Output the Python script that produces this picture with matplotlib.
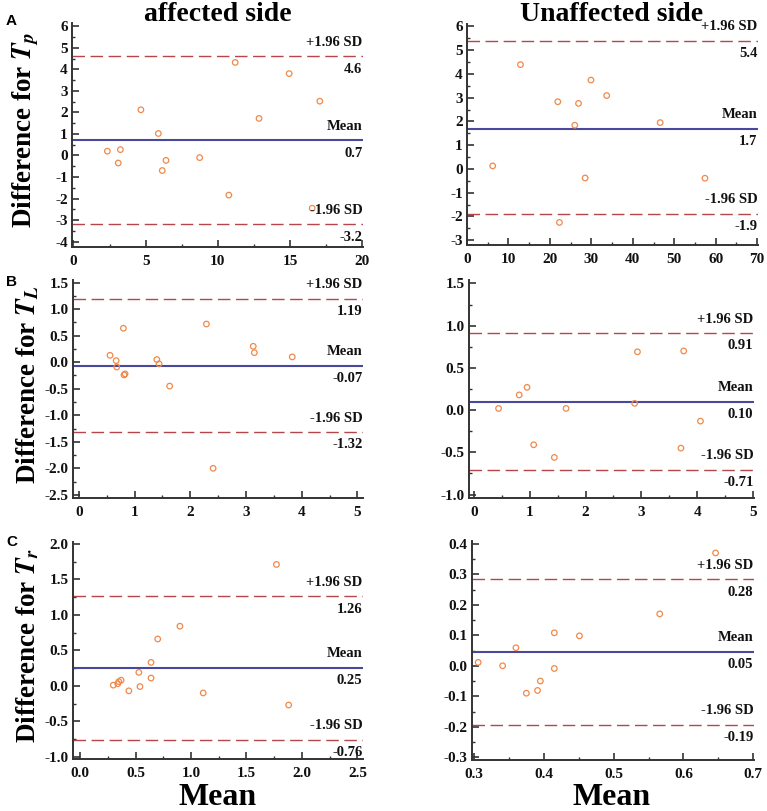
import matplotlib
matplotlib.use("Agg")
import matplotlib.pyplot as plt
from matplotlib.ticker import AutoMinorLocator, MultipleLocator
from matplotlib import transforms

plt.rcParams['font.family'] = ['Liberation Serif', 'DejaVu Serif']
plt.rcParams['font.weight'] = 'bold'
plt.rcParams['mathtext.fontset'] = 'stix'

# ---- data ----
tp_aff_x = [2.35, 3.1, 3.25, 4.67, 5.88, 6.15, 6.41, 8.74, 10.76, 11.2, 12.85, 14.94, 17.06, 16.53]
tp_aff_y = [0.2, -0.35, 0.27, 2.12, 1.02, -0.7, -0.23, -0.1, -1.84, 4.32, 1.72, 3.8, 2.52, -2.45]
tp_aff_stats = [0.7, 4.6, -3.2]

tp_un_x = [6.2, 12.9, 21.9, 22.3, 26.0, 26.9, 28.5, 29.9, 33.7, 46.6, 57.4]
tp_un_y = [0.13, 4.39, 2.83, -2.25, 1.84, 2.76, -0.38, 3.74, 3.09, 1.95, -0.39]
tp_un_stats = [1.7, 5.4, -1.9]

tl_aff_x = [0.56, 0.67, 0.68, 0.80, 0.81, 0.83, 1.40, 1.44, 1.63, 2.29, 2.41, 3.13, 3.15, 3.83]
tl_aff_y = [0.13, 0.03, -0.09, 0.64, -0.24, -0.22, 0.05, -0.03, -0.45, 0.72, -2.0, 0.30, 0.18, 0.10]
tl_aff_stats = [-0.07, 1.19, -1.32]

tl_un_x = [0.44, 0.81, 0.95, 1.07, 1.44, 1.65, 2.88, 2.93, 3.71, 3.76, 4.06]
tl_un_y = [0.02, 0.18, 0.27, -0.41, -0.56, 0.02, 0.08, 0.69, -0.45, 0.70, -0.13]
tl_un_stats = [0.10, 0.91, -0.71]

tr_aff_x = [0.30, 0.34, 0.35, 0.37, 0.44, 0.53, 0.54, 0.64, 0.64, 0.70, 0.90, 1.11, 1.77, 1.88]
tr_aff_y = [0.01, 0.03, 0.06, 0.08, -0.07, 0.19, -0.01, 0.33, 0.11, 0.66, 0.84, -0.10, 1.71, -0.27]
tr_aff_stats = [0.25, 1.26, -0.76]

tr_un_x = [0.306, 0.341, 0.360, 0.375, 0.391, 0.395, 0.415, 0.415, 0.451, 0.566, 0.646]
tr_un_y = [0.011, 0.0, 0.059, -0.09, -0.081, -0.05, 0.108, -0.009, 0.098, 0.17, 0.37]
tr_un_stats = [0.046, 0.283, -0.193]

stat_labels = [
    ['0.7', '4.6', '-3.2'],
    ['1.7', '5.4', '-1.9'],
    ['-0.07', '1.19', '-1.32'],
    ['0.10', '0.91', '-0.71'],
    ['0.25', '1.26', '-0.76'],
    ['0.05', '0.28', '-0.19'],
]
row_ylabels = ['Difference for $T_p$', 'Difference for $T_L$', 'Difference for $T_r$']
col_titles = ['affected side', 'Unaffected side']
panel_letters = ['A', 'B', 'C']

W, H = 767, 811
fig = plt.figure(figsize=(W / 100, H / 100), dpi=100)

MEAN_C = '#48489c'
SD_C = '#b5474c'
PT_C = '#f0894a'
TXT_C = '#111111'


def make_ax(x0, x1, y0, y1):
    return fig.add_axes([x0 / W, 1 - y1 / H, (x1 - x0) / W, (y1 - y0) / H])


panels = [
    (tp_aff_x, tp_aff_y, tp_aff_stats, (-0.1, 20.05), (-4.25, 6.15), 5, 1, 0, (72, 363, 23, 247)),
    (tp_un_x, tp_un_y, tp_un_stats, (0, 70.2), (-3.2, 6.1), 10, 1, 0, (467, 758, 24, 245)),
    (tl_aff_x, tl_aff_y, tl_aff_stats, (-0.11, 5.1), (-2.56, 1.55), 1, 0.5, 1, (72.7, 363, 280, 498)),
    (tl_un_x, tl_un_y, tl_un_stats, (-0.09, 5.02), (-1.04, 1.54), 1, 0.5, 1, (469, 754, 280, 498)),
    (tr_aff_x, tr_aff_y, tr_aff_stats, (-0.066, 2.55), (-1.03, 2.03), 0.5, 0.5, 1, (72.7, 363, 541.7, 759)),
    (tr_un_x, tr_un_y, tr_un_stats, (0.2967, 0.701), (-0.309, 0.41), 0.1, 0.1, 1, (471.7, 754, 540.7, 760)),
]

axes = []
for i, (xs, ys, st, xl, yl, xm, ym, ydec, pos) in enumerate(panels):
    lab = stat_labels[i]
    ax = make_ax(*pos)
    axes.append(ax)
    ax.scatter(xs, ys, s=16, facecolors='none', edgecolors=PT_C, linewidths=0.9, zorder=3)
    ax.axhline(st[0], color=MEAN_C, lw=1.5, zorder=2)
    ax.axhline(st[1], color=SD_C, lw=1.0, dashes=(9, 4), zorder=2)
    ax.axhline(st[2], color=SD_C, lw=1.0, dashes=(9, 4), zorder=2)
    ax.set_xlim(*xl)
    ax.set_ylim(*yl)
    ax.xaxis.set_major_locator(MultipleLocator(xm))
    ax.yaxis.set_major_locator(MultipleLocator(ym))
    ax.xaxis.set_minor_locator(AutoMinorLocator(2))
    ax.yaxis.set_minor_locator(AutoMinorLocator(2))
    for s in ['top', 'right']:
        ax.spines[s].set_visible(False)
    for s in ['left', 'bottom']:
        ax.spines[s].set_linewidth(1.4)
        ax.spines[s].set_color('#333333')
    ax.tick_params(which='major', direction='in', length=5, width=1.2, labelsize=11, color='#333333',
                   labelcolor='#111111')
    ax.tick_params(axis='x', which='major', pad=6)
    ax.tick_params(axis='y', which='major', pad=3)
    ax.tick_params(which='minor', direction='in', length=2.5, width=1.0, color='#333333')

    def yf(v, p, d=ydec):
        s = '{:.{d}f}'.format(v, d=d)
        return s[1:] if s.startswith('-') and float(s) == 0 else s
    ax.yaxis.set_major_formatter(plt.FuncFormatter(yf))
    xdec = 1 if xm < 1 else 0
    ax.xaxis.set_major_formatter(plt.FuncFormatter(lambda v, p, d=xdec: '{:.{d}f}'.format(v, d=d)))

    tr = transforms.blended_transform_factory(ax.transAxes, ax.transData)
    for val, top_txt, bot_txt in [(st[0], 'Mean', lab[0]), (st[1], '+1.96 SD', lab[1]), (st[2], '-1.96 SD', lab[2])]:
        ax.annotate(top_txt, (0.998, val), xycoords=tr, xytext=(0, 5.5), textcoords='offset points',
                    ha='right', va='bottom', fontsize=10.5, fontweight='bold', color=TXT_C)
        ax.annotate(bot_txt, (0.998, val), xycoords=tr, xytext=(0, -4.5), textcoords='offset points',
                    ha='right', va='top', fontsize=10.5, fontweight='bold', color=TXT_C)

# y labels for left column
for r, ax in enumerate([axes[0], axes[2], axes[4]]):
    ax.set_ylabel(row_ylabels[r], fontsize=19.5, fontweight='bold')
    ax.yaxis.set_label_coords(-0.108, 0.52)

# titles
fig.text(218 / W, 1 - 21 / H, col_titles[0], ha='center', va='baseline', fontsize=20, fontweight='bold')
fig.text(612 / W, 1 - 21 / H, col_titles[1], ha='center', va='baseline', fontsize=20, fontweight='bold')

# x labels
fig.text(218 / W, 1 - 805 / H, 'Mean', ha='center', va='baseline', fontsize=23, fontweight='bold')
fig.text(612 / W, 1 - 805 / H, 'Mean', ha='center', va='baseline', fontsize=23, fontweight='bold')

# panel letters
for letter, y in zip(panel_letters, [21, 282, 542]):
    fig.text(6 / W, 1 - y / H, letter, ha='left', va='center', fontsize=11, fontweight='bold',
             family=['Liberation Sans', 'DejaVu Sans'])

# make sure tick labels are bold
fig.canvas.draw()
for ax in axes:
    for lbl in ax.get_xticklabels() + ax.get_yticklabels():
        lbl.set_fontweight('bold')

fig.savefig('out.png', dpi=100)
